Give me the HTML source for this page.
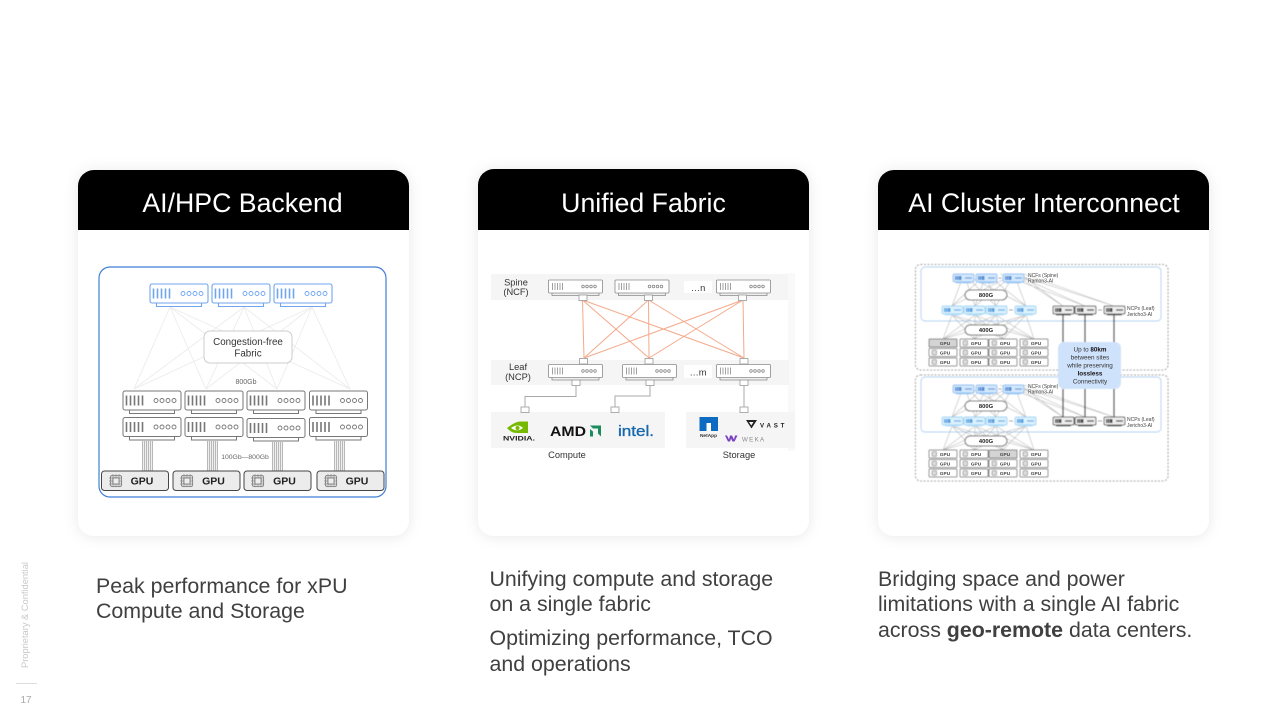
<!DOCTYPE html>
<html lang="en">
<head>
<meta charset="utf-8">
<title>AI fabric use cases</title>
<style>
html,body{margin:0;padding:0;background:#fff;width:1280px;height:720px;overflow:hidden}
svg{display:block;font-family:"Liberation Sans",sans-serif}
.h{font-size:26.7px;fill:#fff;text-anchor:middle}
.b{font-size:21.35px;fill:#404040}
.m{text-anchor:middle;fill:#333}
</style>
</head>
<body>
<svg width="1280" height="720" viewBox="0 0 1280 720" xmlns="http://www.w3.org/2000/svg">
<defs>
<filter id="sh" x="-15%" y="-15%" width="130%" height="130%"><feDropShadow dx="0" dy="1" stdDeviation="7" flood-color="#000" flood-opacity=".09"/></filter>
<filter id="soft" x="-5%" y="-5%" width="110%" height="110%"><feGaussianBlur stdDeviation=".35"/></filter>
<filter id="soft3" x="-5%" y="-5%" width="110%" height="110%"><feGaussianBlur stdDeviation=".4"/></filter>
<g id="sw">
<path d="M7 19.500v3.500h45v-3.500" fill="#fff"/>
<rect x=".5" y=".5" width="58" height="19" rx="2" fill="#fff"/>
<path d="M4 5v10M8 5v10M12 5v10M16 5v10M20 5v10" fill="none" stroke-width="1.600"/>
<g fill="none" stroke-width=".9"><circle cx="33.500" cy="10" r="2"/><circle cx="39.500" cy="10" r="2"/><circle cx="45.500" cy="10" r="2"/><circle cx="51.500" cy="10" r="2"/></g>
</g>
<g id="msw" fill="none" stroke="#8a8a8a" stroke-width=".8">
<path d="M4 13v3h47v-3" fill="#eee"/>
<rect x=".5" y=".5" width="54" height="13" rx="1" fill="#fff"/>
<path d="M4.500 3.500v7M7 3.500v7M9.500 3.500v7M12 3.500v7M14.500 3.500v7"/>
<circle cx="35" cy="7" r="1.300"/><circle cx="39" cy="7" r="1.300"/><circle cx="43" cy="7" r="1.300"/><circle cx="47" cy="7" r="1.300"/>
</g>
<g id="bsw"><path d="M3 8h15v1.500H3z" fill="#a9cff5"/><rect width="21" height="8" rx="1.500" fill="#d3e9fb" stroke="#86bcf2" stroke-width=".9"/><rect x="2" y="2" width="6.500" height="4" fill="#4f88d6"/><path d="M3.500 2v4M5.500 2v4" stroke="#d3e9fb" stroke-width=".5"/><path d="M12 4h7" stroke="#6f9de0" stroke-width="1.300"/></g>
<g id="lsw"><path d="M3 8h15v1.500H3z" fill="#bfe3fa"/><rect width="21" height="8" rx="1.500" fill="#dcf2fd" stroke="#99d3f6" stroke-width=".9"/><rect x="2" y="2" width="6.500" height="4" fill="#4f9de0"/><path d="M3.500 2v4M5.500 2v4" stroke="#dcf2fd" stroke-width=".5"/><path d="M12 4h7" stroke="#6fb0e8" stroke-width="1.300"/></g>
<g id="gsw"><path d="M3 8h15v1.500H3z" fill="#666"/><rect width="21" height="8" rx="1.500" fill="#eee" stroke="#555" stroke-width="1"/><rect x="2" y="2" width="6.500" height="4" fill="#444"/><path d="M3.500 2v4M5.500 2v4" stroke="#eee" stroke-width=".5"/><path d="M12 4h7" stroke="#444" stroke-width="1.300"/></g>
<g id="cell"><rect width="28" height="8" rx="1" fill="#fff" stroke="#808080" stroke-width="1"/><rect x="3" y="1.700" width="4.600" height="4.600" rx="1" fill="#ddd" stroke="#777" stroke-width=".6"/></g>
<g id="chip"><rect x="-5.500" y="-5.500" width="11" height="11" rx="1.500" fill="#d8d8d8" stroke="#777" stroke-width=".8"/><path d="M-7 -3h14M-7 0h14M-7 3h14M-3 -7v14M0 -7v14M3 -7v14" stroke="#888" stroke-width=".7" stroke-dasharray="1.500 .8"/><rect x="-3" y="-3" width="6" height="6" fill="#eee" stroke="#666" stroke-width=".7"/></g>
<g id="cable"><rect width="11" height="30" fill="#f0f0f0"/><path d="M.5 0v30M2.500 0v30M4.500 0v30M6.500 0v30M8.500 0v30M10.500 0v30" stroke="#aaa" stroke-width=".8"/></g>
<g id="net">
<g stroke="#b5b5b5" stroke-width=".6" fill="none">
<path d="M964 10L952 42M964 10L975 42M964 10L996 42M964 10L1026 42M986 10L952 42M986 10L975 42M986 10L996 42M986 10L1026 42M1014 10L952 42M1014 10L975 42M1014 10L996 42M1014 10L1026 42"/>
<path d="M1014 10L1063 42M1014 10L1085 42M1014 10L1114 42M1020 10L1063 42M1000 10L1085 42M1024 10L1114 42"/>
<path d="M952 51L943 75M952 51L974 75M952 51L1003 75M952 51L1034 75M975 51L943 75M975 51L974 75M975 51L1003 75M975 51L1034 75M996 51L943 75M996 51L974 75M996 51L1003 75M996 51L1034 75M1026 51L943 75M1026 51L974 75M1026 51L1003 75M1026 51L1034 75"/>
</g>
<rect x="965" y="26" width="42" height="10" rx="5" fill="#fff" stroke="#666" stroke-width="1"/>
<rect x="965" y="61" width="42" height="10" rx="5" fill="#fff" stroke="#666" stroke-width="1"/>
<use href="#bsw" x="953" y="10"/><use href="#bsw" x="976" y="10"/><use href="#bsw" x="1003" y="10"/>
<path d="M998.500 14h3" stroke="#777" stroke-width=".8"/>
<use href="#lsw" x="942" y="42"/><use href="#lsw" x="964" y="42"/><use href="#lsw" x="986" y="42"/><use href="#lsw" x="1015" y="42"/>
<path d="M1009 46h4" stroke="#777" stroke-width=".8"/>
<use href="#gsw" x="1053" y="42"/><use href="#gsw" x="1075" y="42"/><use href="#gsw" x="1104" y="42"/>
<path d="M1098 46h4" stroke="#777" stroke-width=".8"/>
<use href="#cell" x="929" y="75"/><use href="#cell" x="960" y="75"/><use href="#cell" x="989" y="75"/><use href="#cell" x="1020" y="75"/><use href="#cell" x="929" y="84.500"/><use href="#cell" x="960" y="84.500"/><use href="#cell" x="989" y="84.500"/><use href="#cell" x="1020" y="84.500"/><use href="#cell" x="929" y="94"/><use href="#cell" x="960" y="94"/><use href="#cell" x="989" y="94"/><use href="#cell" x="1020" y="94"/>
</g>
</defs>

<rect width="1280" height="720" fill="#fff"/>

<!-- Cards -->
<g filter="url(#sh)">
<rect x="78" y="170" width="331" height="366" rx="16" fill="#fff"/>
<rect x="478" y="169" width="331" height="367" rx="16" fill="#fff"/>
<rect x="878" y="170" width="331" height="366" rx="16" fill="#fff"/>
</g>
<path d="M78 230v-44a16 16 0 0 1 16-16h299a16 16 0 0 1 16 16v44z" fill="#000"/>
<path d="M478 230v-45a16 16 0 0 1 16-16h299a16 16 0 0 1 16 16v45z" fill="#000"/>
<path d="M878 230v-44a16 16 0 0 1 16-16h299a16 16 0 0 1 16 16v44z" fill="#000"/>
<text class="h" x="242.500" y="212">AI/HPC Backend</text>
<text class="h" x="643.500" y="212">Unified Fabric</text>
<text class="h" x="1044" y="212">AI Cluster Interconnect</text>

<!-- Diagram 1 -->
<g filter="url(#soft)">
<rect x="99" y="267" width="287" height="230" rx="11" fill="#fff" stroke="#3f7fd6" stroke-width="1.200"/>
<g stroke="#ececec" stroke-width=".9" fill="none">
<path d="M170 307L134 389M170 307L206 389M170 307L277 389M170 307L350 389M244 307L134 389M244 307L206 389M244 307L277 389M244 307L350 389M312 307L134 389M312 307L206 389M312 307L277 389M312 307L350 389"/>
</g>
<rect x="204" y="331" width="88" height="32" rx="6" fill="#fff" stroke="#ccc" stroke-width="1"/>
<g stroke="#6fa5ee" stroke-width="1.100"><use href="#sw" x="149.500" y="283.500"/><use href="#sw" x="211.500" y="283.500"/><use href="#sw" x="273.500" y="283.500"/></g>
<g stroke="#777" stroke-width="1"><use href="#sw" x="122.500" y="390.500"/><use href="#sw" x="184.500" y="390.500"/><use href="#sw" x="246.500" y="390.500"/><use href="#sw" x="309" y="390.500"/>
<use href="#sw" x="122.500" y="417"/><use href="#sw" x="184.500" y="417"/><use href="#sw" x="246.500" y="418"/><use href="#sw" x="309" y="417"/></g>
<use href="#cable" x="142" y="441"/><use href="#cable" x="207" y="441"/><use href="#cable" x="272" y="442"/><use href="#cable" x="334" y="441"/>
<g fill="#ececec" stroke="#444" stroke-width="1"><rect x="101.500" y="471" width="67" height="19.500" rx="3"/><rect x="173" y="471" width="67" height="19.500" rx="3"/><rect x="244" y="471" width="67" height="19.500" rx="3"/><rect x="317" y="471" width="67" height="19.500" rx="3"/></g>
<use href="#chip" x="116" y="481"/><use href="#chip" x="187" y="481"/><use href="#chip" x="258" y="481"/><use href="#chip" x="331" y="481"/>
</g>
<text x="248" y="345" class="m" font-size="9.800">Congestion-free</text>
<text x="248" y="356.500" class="m" font-size="9.800">Fabric</text>
<text x="246" y="384" text-anchor="middle" font-size="7" fill="#666">800Gb</text>
<text x="245" y="459" text-anchor="middle" font-size="6.800" fill="#666">100Gb—800Gb</text>
<g font-size="10.500" font-weight="bold" fill="#222" text-anchor="middle"><text x="142" y="484.500">GPU</text><text x="213.500" y="484.500">GPU</text><text x="284.500" y="484.500">GPU</text><text x="357" y="484.500">GPU</text></g>

<!-- Diagram 2 -->
<g filter="url(#soft)">
<rect x="788" y="273" width="7" height="178" fill="#f9f9f9"/>
<rect x="491" y="274" width="297" height="26" fill="#f5f5f5"/>
<rect x="491" y="360" width="298" height="25" fill="#f5f5f5"/>
<rect x="491" y="412" width="174" height="36" fill="#f5f5f5"/>
<rect x="686" y="412" width="109" height="36" fill="#f5f5f5"/>
<g stroke="#f4a98a" stroke-width="1" fill="none">
<path d="M582.500 300L584 358M582.500 300L649 358M582.500 300L744 358M648.500 300L584 358M648.500 300L649 358M648.500 300L744 358M743 300L584 358M743 300L649 358M743 300L744 358"/>
</g>
<use href="#msw" x="548" y="279.500"/><use href="#msw" x="614.500" y="279.500"/><use href="#msw" x="716" y="279.500"/>
<use href="#msw" x="548" y="364"/><use href="#msw" x="622" y="364"/><use href="#msw" x="716" y="364"/>
<g fill="#fff" stroke="#999" stroke-width=".8">
<rect x="579" y="295" width="8" height="5.500"/><rect x="644.500" y="295" width="8" height="5.500"/><rect x="738.500" y="295" width="8" height="5.500"/>
<rect x="579.500" y="358.500" width="8" height="5.500"/><rect x="645" y="358.500" width="8" height="5.500"/><rect x="740" y="358.500" width="8" height="5.500"/>
<rect x="572" y="380" width="8" height="5.500"/><rect x="646" y="380" width="8" height="5.500"/><rect x="740" y="380" width="8" height="5.500"/>
<rect x="521" y="407" width="8" height="5.500"/><rect x="611" y="407" width="8" height="5.500"/><rect x="740" y="407" width="8" height="5.500"/>
</g>
<path d="M576 385.500V396.500H525V407M650 385.500V396H615V407M744 385.500V407" fill="none" stroke="#aaa" stroke-width="1"/>
<rect x="684" y="281" width="28" height="12" rx="1" fill="#fff"/>
<rect x="684" y="365" width="28" height="13" rx="1" fill="#fff"/>
<path d="M507 428q9-7 14-6.500h7v11.500h-11q-6 0-10-5z" fill="#76b900"/><path d="M511 428q7-5 12 0q-6 4.500-12 0z" fill="#fff"/><circle cx="517.500" cy="428" r="2" fill="#76b900"/>
<path d="M590 425.500h11v11l-3-3v-5h-5zM590 429l3 2.500v5h-3z" fill="#1e8c5f"/>
<rect x="699.500" y="417" width="18.500" height="14" fill="#0b6cc1"/><rect x="706.500" y="423" width="4.500" height="8" fill="#fff"/>
<path d="M746 420h11l-5.500 8.500zM749 422h4.500l-2.200 3.500z" fill="#222" fill-rule="evenodd"/>
<path d="M725 435.500l2 0 2 4 1-4 2 0 2 4 1-4 2.500 0-3 6-2 0-1.500-3-1 3-2 0z" fill="#7a3fc0"/>
</g>
<g font-size="9.300" fill="#333" text-anchor="middle">
<text x="516" y="285.500">Spine</text><text x="516" y="295">(NCF)</text>
<text x="518" y="370">Leaf</text><text x="518" y="380">(NCP)</text>
<text x="698" y="291">…n</text><text x="698" y="375.500">…m</text>
<text x="567" y="458">Compute</text><text x="739" y="458">Storage</text>
</g>
<text x="519" y="440.500" font-size="6.800" font-weight="bold" text-anchor="middle" fill="#222" textLength="32" lengthAdjust="spacingAndGlyphs">NVIDIA.</text>
<text x="550" y="436" font-size="13.500" font-weight="bold" fill="#111" textLength="36" lengthAdjust="spacingAndGlyphs">AMD</text>
<text x="618" y="436" font-size="15" fill="#1768ae" stroke="#1768ae" stroke-width=".35" textLength="36" lengthAdjust="spacingAndGlyphs">intel.</text>
<text x="708.500" y="437" font-size="4.800" font-weight="bold" text-anchor="middle" fill="#333">NetApp</text>
<text x="760" y="427.500" font-size="6.200" font-weight="bold" fill="#222" letter-spacing="2.800">VAST</text>
<text x="742" y="441.500" font-size="6.200" fill="#888" letter-spacing="1.300">WEKA</text>

<!-- Diagram 3 -->
<g filter="url(#soft3)">
<rect x="915.500" y="264.500" width="252.500" height="105.500" rx="5" fill="#fff" stroke="#777" stroke-width=".8" stroke-dasharray="2 1.500"/>
<rect x="915.500" y="375" width="252.500" height="106" rx="5" fill="#fff" stroke="#777" stroke-width=".8" stroke-dasharray="2 1.500"/>
<rect x="921" y="267" width="240" height="54" rx="4" fill="#fff" stroke="#a9cdf3" stroke-width=".9"/>
<rect x="921" y="377" width="240" height="55" rx="4" fill="#fff" stroke="#a9cdf3" stroke-width=".9"/>
<use href="#net" x="0" y="264"/>
<use href="#net" x="0" y="375"/>
<rect x="929" y="339" width="28" height="8" rx="1" fill="#d4d4d4" stroke="#808080"/>
<rect x="989" y="450" width="28" height="8" rx="1" fill="#d4d4d4" stroke="#808080"/>
<path d="M1063 315V342M1085 315V342M1114 315V342M1063 389V417M1085 389V417M1114 389V417" stroke="#222" stroke-width="1.200"/>
<rect x="1058" y="342" width="63" height="47" rx="6" fill="#cfe2fb"/>
</g>
<g font-size="6.300" fill="#333" text-anchor="middle">
<text x="1090" y="351.500">Up to <tspan font-weight="bold" fill="#111">80km</tspan></text>
<text x="1090" y="359.500">between sites</text>
<text x="1090" y="367.500">while preserving</text>
<text x="1090" y="375.500" font-weight="bold" fill="#111">lossless</text>
<text x="1090" y="383.500">Connectivity</text>
</g>
<g font-size="5" fill="#444">
<text x="1028" y="277">NCFs (Spine)</text><text x="1028" y="282.500">Ramon3-AI</text>
<text x="1127" y="310">NCPs (Leaf)</text><text x="1127" y="316">Jericho3-AI</text>
<text x="1028" y="388">NCFs (Spine)</text><text x="1028" y="393.500">Ramon3-AI</text>
<text x="1127" y="421">NCPs (Leaf)</text><text x="1127" y="427">Jericho3-AI</text>
</g>
<g font-size="5.800" font-weight="bold" fill="#222" text-anchor="middle">
<text x="986" y="297">800G</text><text x="986" y="332">400G</text>
<text x="986" y="408">800G</text><text x="986" y="443">400G</text>
</g>
<g font-size="4.800" font-weight="bold" fill="#444" text-anchor="middle">
<text x="945" y="345">GPU</text><text x="976" y="345">GPU</text><text x="1005" y="345">GPU</text><text x="1036" y="345">GPU</text>
<text x="945" y="354.500">GPU</text><text x="976" y="354.500">GPU</text><text x="1005" y="354.500">GPU</text><text x="1036" y="354.500">GPU</text>
<text x="945" y="364">GPU</text><text x="976" y="364">GPU</text><text x="1005" y="364">GPU</text><text x="1036" y="364">GPU</text>
<text x="945" y="456">GPU</text><text x="976" y="456">GPU</text><text x="1005" y="456">GPU</text><text x="1036" y="456">GPU</text>
<text x="945" y="465.500">GPU</text><text x="976" y="465.500">GPU</text><text x="1005" y="465.500">GPU</text><text x="1036" y="465.500">GPU</text>
<text x="945" y="475">GPU</text><text x="976" y="475">GPU</text><text x="1005" y="475">GPU</text><text x="1036" y="475">GPU</text>
</g>

<!-- Body copy -->
<text class="b" x="96" y="593">Peak performance for xPU</text>
<text class="b" x="96" y="618">Compute and Storage</text>
<text class="b" x="489.500" y="586">Unifying compute and storage</text>
<text class="b" x="489.500" y="611">on a single fabric</text>
<text class="b" x="489.500" y="645">Optimizing performance, TCO</text>
<text class="b" x="489.500" y="671">and operations</text>
<text class="b" x="878" y="586">Bridging space and power</text>
<text class="b" x="878" y="611">limitations with a single AI fabric</text>
<text class="b" x="878" y="637">across <tspan font-weight="bold">geo-remote</tspan> data centers.</text>

<!-- Footer rail -->
<text transform="translate(28 668) rotate(-90)" font-size="9.300" fill="#c8c8c8">Proprietary &amp; Confidential</text>
<path d="M16 683.500H37" stroke="#ddd" stroke-width="1"/>
<text x="26" y="703" font-size="10" fill="#aaa" text-anchor="middle">17</text>
</svg>
</body>
</html>
